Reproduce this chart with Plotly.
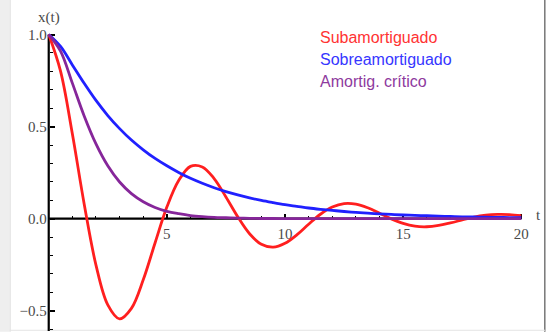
import plotly.graph_objects as go

# ---------------- data ----------------
T = [0.0, 0.5, 1.0, 1.5, 2.0, 2.5, 3.0, 3.5, 4.0, 4.5, 5.0, 5.5, 6.0, 6.5, 7.0, 7.5,
     8.0, 8.5, 9.0, 9.5, 10.0, 10.5, 11.0, 11.5, 12.0, 12.5, 13.0, 13.5, 14.0, 14.5,
     15.0, 15.5, 16.0, 16.5, 17.0, 17.5, 18.0, 18.5, 19.0, 19.5, 20.0]

SUBAMORTIGUADO = [1.000, 0.801, 0.461, 0.080, -0.252, -0.468, -0.544, -0.487, -0.332, -0.132,
                  0.063, 0.207, 0.284, 0.281, 0.218, 0.118, 0.010, -0.082, -0.139, -0.155,
                  -0.134, -0.088, -0.030, 0.024, 0.063, 0.082, 0.079, 0.059, 0.030, -0.001,
                  -0.026, -0.041, -0.044, -0.037, -0.023, -0.007, 0.009, 0.019, 0.023, 0.022,
                  0.016]

SOBREAMORTIGUADO = [1.000, 0.935, 0.835, 0.735, 0.642, 0.560, 0.489, 0.427, 0.374, 0.327,
                    0.287, 0.251, 0.219, 0.192, 0.168, 0.147, 0.129, 0.113, 0.099, 0.087,
                    0.076, 0.067, 0.058, 0.051, 0.045, 0.039, 0.034, 0.030, 0.026, 0.023,
                    0.020, 0.018, 0.016, 0.014, 0.012, 0.010, 0.009, 0.008, 0.007, 0.006,
                    0.005]

CRITICO = [1.000, 0.910, 0.736, 0.558, 0.406, 0.287, 0.199, 0.136, 0.092, 0.061,
           0.040, 0.027, 0.017, 0.011, 0.007, 0.005, 0.003, 0.002, 0.001, 0.001,
           0.000, 0.000, 0.000, 0.000, 0.000, 0.000, 0.000, 0.000, 0.000, 0.000,
           0.000, 0.000, 0.000, 0.000, 0.000, 0.000, 0.000, 0.000, 0.000, 0.000,
           0.000]

NAMES = ["Subamortiguado", "Sobreamortiguado", "Amortig. crítico"]
COLORS = ["#ff1f1f", "#2020ff", "#86269a"]
TEXT_COLORS = ["#ff3333", "#3636ff", "#8e3a9e"]

X_TICKS = [5, 10, 15, 20]
X_MINOR = [1, 2, 3, 4, 6, 7, 8, 9, 11, 12, 13, 14, 16, 17, 18, 19]
Y_TICKS = [-0.5, 0.0, 0.5, 1.0]
Y_MINOR = [-0.6, -0.4, -0.3, -0.2, -0.1, 0.1, 0.2, 0.3, 0.4, 0.6, 0.7, 0.8, 0.9]
X_AXIS_SPAN = [0, 20]
Y_AXIS_SPAN = [-0.61, 1.0]

# ---------------- layout geometry ----------------
W, H = 547, 332
X_RANGE = [-0.2, 20.2]
Y_RANGE = [-0.61, 1.03]
PX_X, PX_Y = 23.6, 184.0
ORIGIN = (49.0, 219.0)

ml = ORIGIN[0] - (0 - X_RANGE[0]) * PX_X
pw = (X_RANGE[1] - X_RANGE[0]) * PX_X
mr = W - ml - pw
mt = ORIGIN[1] - Y_RANGE[1] * PX_Y
ph = (Y_RANGE[1] - Y_RANGE[0]) * PX_Y
mb = H - mt - ph

def px_to_paper_x(px):
    return (px - ml) / pw

def px_to_paper_y(py):
    return 1 - (py - mt) / ph

TICK_FONT = dict(family="Liberation Serif", size=15, color="#4a4a4a")

fig = go.Figure()
for name, ys, col in zip(NAMES, [SUBAMORTIGUADO, SOBREAMORTIGUADO, CRITICO], COLORS):
    fig.add_trace(go.Scatter(x=T, y=ys, mode="lines", name=name,
                             line=dict(color=col, width=2.8, shape="spline", smoothing=1.0),
                             showlegend=False, hoverinfo="skip"))

fig.update_layout(
    template="none",
    width=W, height=H,
    margin=dict(l=ml, r=mr, t=mt, b=mb, pad=0),
    paper_bgcolor="white", plot_bgcolor="white",
    xaxis=dict(range=X_RANGE, domain=[0, 1], anchor="free",
               position=(0 - Y_RANGE[0]) / (Y_RANGE[1] - Y_RANGE[0]),
               showgrid=False, zeroline=False, showline=False,
               tickmode="array", tickvals=X_TICKS, ticks="inside",
               ticklen=5, tickwidth=1.6, tickcolor="black",
               tickfont=TICK_FONT, ticklabelstandoff=4,
               minor=dict(tickmode="array", tickvals=X_MINOR, ticks="inside",
                          ticklen=3, tickwidth=1.4, tickcolor="black", showgrid=False),
               layer="below traces", automargin=False, fixedrange=True),
    yaxis=dict(range=Y_RANGE, domain=[0, 1], anchor="free",
               position=(0 - X_RANGE[0]) / (X_RANGE[1] - X_RANGE[0]),
               showgrid=False, zeroline=False, showline=False,
               tickmode="array", tickvals=Y_TICKS, tickformat=".1f", ticks="inside",
               ticklen=5, tickwidth=1.6, tickcolor="black",
               tickfont=TICK_FONT, ticklabelstandoff=2,
               minor=dict(tickmode="array", tickvals=Y_MINOR, ticks="inside",
                          ticklen=3, tickwidth=1.4, tickcolor="black", showgrid=False),
               layer="below traces", automargin=False, fixedrange=True),
)

# axes lines (Mathematica-style, crossing at origin)
fig.add_shape(type="line", xref="x", yref="y", x0=X_AXIS_SPAN[0], x1=X_AXIS_SPAN[1], y0=0, y1=0,
              line=dict(color="black", width=2.2), layer="below")
fig.add_shape(type="line", xref="x", yref="y", x0=0, x1=0, y0=Y_AXIS_SPAN[0], y1=Y_AXIS_SPAN[1],
              line=dict(color="black", width=2.2), layer="below")

# picture frame (light strip at left, grey line at right)
fig.add_shape(type="rect", xref="paper", yref="paper",
              x0=px_to_paper_x(0), x1=px_to_paper_x(10), y0=px_to_paper_y(H), y1=px_to_paper_y(0),
              fillcolor="#eeeeee", line=dict(width=0), layer="below")
fig.add_shape(type="line", xref="paper", yref="paper",
              x0=px_to_paper_x(10.5), x1=px_to_paper_x(10.5), y0=px_to_paper_y(H), y1=px_to_paper_y(0),
              line=dict(color="#dddddd", width=1), layer="below")
fig.add_shape(type="line", xref="paper", yref="paper",
              x0=px_to_paper_x(544.5), x1=px_to_paper_x(544.5), y0=px_to_paper_y(H), y1=px_to_paper_y(0),
              line=dict(color="#777777", width=1.5), layer="below")
fig.add_shape(type="line", xref="paper", yref="paper",
              x0=px_to_paper_x(10), x1=px_to_paper_x(545), y0=px_to_paper_y(330.5), y1=px_to_paper_y(330.5),
              line=dict(color="#e4e4e4", width=1), layer="below")

# axis labels
fig.add_annotation(text="x(t)", x=0, y=Y_AXIS_SPAN[1], xref="x", yref="y",
                   xanchor="center", yanchor="bottom", yshift=7, showarrow=False,
                   font=TICK_FONT)
fig.add_annotation(text="t", x=X_AXIS_SPAN[1], y=0, xref="x", yref="y",
                   xanchor="left", yanchor="middle", xshift=13, yshift=4, showarrow=False,
                   font=TICK_FONT)

# legend texts
LEG_X = (318 - ORIGIN[0]) / PX_X
for i, (name, col) in enumerate(zip(NAMES, TEXT_COLORS)):
    py = [38, 60, 82][i]
    fig.add_annotation(text=name, x=LEG_X, y=(ORIGIN[1] - py) / PX_Y, xref="x", yref="y",
                       xanchor="left", yanchor="middle", showarrow=False,
                       font=dict(family="Liberation Sans", size=16, color=col))

fig.write_html("out.html", config={"displayModeBar": False},
               post_script="document.body.style.margin='0';")
